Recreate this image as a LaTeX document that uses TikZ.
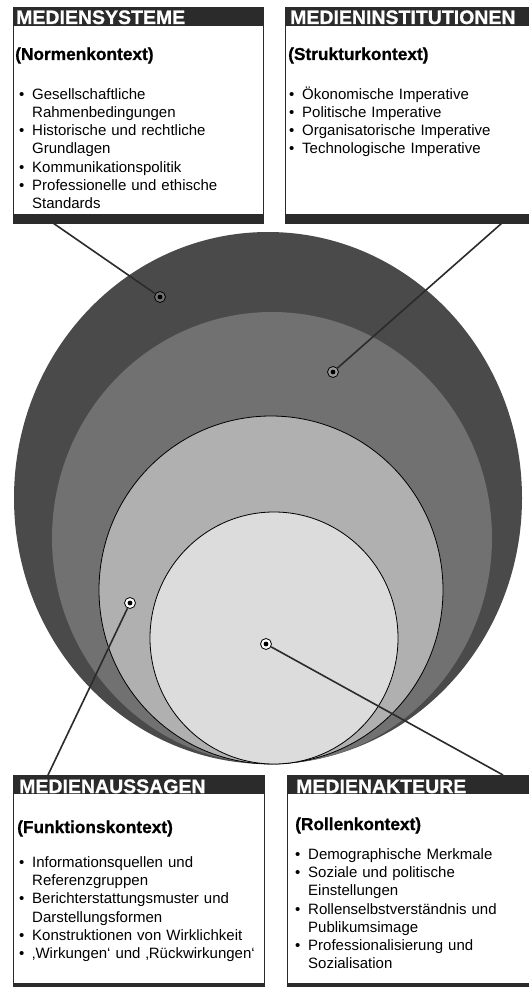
\documentclass[tikz,border=0pt]{standalone}
\usepackage{fontspec}
\setmainfont{Liberation Sans}
\newfontfamily\heavyfont[FakeBold=0.8]{Liberation Sans Bold}
\definecolor{bar}{HTML}{2B2B2B}
\definecolor{cA}{HTML}{4A4A4A}
\definecolor{cB}{HTML}{717171}
\definecolor{cC}{HTML}{B0B0B0}
\definecolor{cD}{HTML}{DCDCDC}
\newcommand{\bi}{\par\noindent\hangindent=13pt\hangafter=1\makebox[13pt][l]{\textbullet}}
\newcommand{\fs}{\rule{0pt}{14pt}}
\tikzset{
  frame/.style={draw=bar, line width=1pt, fill=white, inner sep=0, anchor=north west},
  htext/.style={anchor=base west, inner sep=0, text=white, font=\fontsize{19.5}{20}\heavyfont},
  subt/.style={anchor=base west, inner sep=0, font=\fontsize{17.3}{20}\heavyfont},
  items/.style={anchor=north west, inner sep=0, text width=260pt, align=left, font=\fontsize{15}{18.2}\selectfont},
  conn/.style={draw=bar, line width=1.6pt},
  dotm/.style={circle, draw=black, line width=0.8pt, fill=#1, inner sep=0, minimum size=11pt,
    path picture={\fill[black] (path picture bounding box.center) circle (2.4pt);}},
}
\begin{document}
\begin{tikzpicture}[x=1pt,y=-1pt]
\useasboundingbox (0,0) rectangle (529,987);
\fill[white] (0,0) rectangle (529,987);

% nested circles
\fill[cA] (268,498) ellipse [x radius=254pt, y radius=266pt];
\fill[cB] (272,538) ellipse [x radius=220pt, y radius=226pt];
\filldraw[fill=cC, draw=black, line width=0.8pt] (271,590) ellipse [x radius=172pt, y radius=174pt];
\filldraw[fill=cD, draw=black, line width=0.8pt] (274,638) ellipse [x radius=124pt, y radius=126pt];

% boxes
\node[frame, minimum width=250pt, minimum height=216pt] (tl) at (13,7) {};
\node[frame, minimum width=262pt, minimum height=216pt] (tr) at (285,7) {};
\node[frame, minimum width=251pt, minimum height=217pt] (bl) at (13,775) {};
\node[frame, minimum width=262pt, minimum height=217pt] (br) at (287,775) {};
\foreach \b in {tl,tr,bl,br}{
  \fill[bar] (\b.north west) rectangle ([yshift=-19pt]\b.north east);
  \fill[bar] (\b.south west) rectangle ([yshift=10pt]\b.south east);
}

% top left
\node[htext] (tlh) at (16,24) {MEDIENSYSTEME};
\node[subt] (tls) at (15,60) {(Normenkontext)};
\node[items] (tli) at (19,81) {\bi\fs Gesellschaftliche\newline Rahmenbedingungen
\bi Historische und rechtliche\newline Grundlagen
\bi Kommunikationspolitik
\bi Professionelle und ethische\newline Standards\par};

% top right
\node[htext] (trh) at (290,24) {MEDIENINSTITUTIONEN};
\node[subt] (trs) at (288,60) {(Strukturkontext)};
\node[items] (tri) at (289,81) {\bi\fs Ökonomische Imperative
\bi Politische Imperative
\bi Organisatorische Imperative
\bi Technologische Imperative\par};

% bottom left
\node[htext] (blh) at (19,793) {MEDIENAUSSAGEN};
\node[subt] (bls) at (17,833) {(Funktionskontext)};
\node[items] (bli) at (19,849) {\bi\fs Informationsquellen und\newline Referenzgruppen
\bi Berichterstattungsmuster und\newline Darstellungsformen
\bi Konstruktionen von Wirklichkeit
\bi ‚Wirkungen‘ und ‚Rückwirkungen‘\par};

% bottom right
\node[htext] (brh) at (296,793) {MEDIENAKTEURE};
\node[subt] (brs) at (295,830) {(Rollenkontext)};
\node[items] (bri) at (295,841) {\bi\fs Demographische Merkmale
\bi Soziale und politische\newline Einstellungen
\bi Rollenselbstverständnis und\newline Publikumsimage
\bi Professionalisierung und\newline Sozialisation\par};

% dots and connectors
\node[dotm=black!55] (d1) at (160,297) {};
\node[dotm=black!40] (d2) at (333,372) {};
\node[dotm=white] (d3) at (130,603) {};
\node[dotm=white] (d4) at (266,644) {};
\coordinate (c1) at (53,223);
\coordinate (c2) at (502,223);
\coordinate (c3) at (48,775);
\coordinate (c4) at (503,775);
\draw[conn] (c1) -- (d1);
\draw[conn] (c2) -- (d2);
\draw[conn] (c3) -- (d3);
\draw[conn] (c4) -- (d4);
\end{tikzpicture}
\end{document}
